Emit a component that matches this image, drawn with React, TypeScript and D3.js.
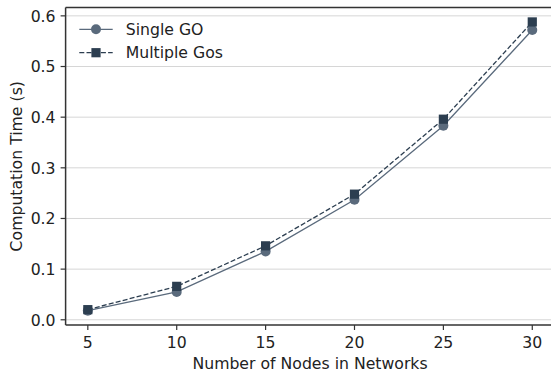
import React from "react";
import * as d3 from "d3";

const nodes = [5, 10, 15, 20, 25, 30];
const singleGO = [0.018, 0.055, 0.135, 0.237, 0.383, 0.572];
const multipleGos = [0.020, 0.066, 0.146, 0.248, 0.396, 0.588];
const xTicks = [5, 10, 15, 20, 25, 30];
const yTicks = [0.0, 0.1, 0.2, 0.3, 0.4, 0.5, 0.6];
const seriesNames = ["Single GO", "Multiple Gos"];

const W = 551;
const H = 374;
const left = 65.6;
const right = 554.5;
const top = 7.5;
const bottom = 325;

const singleColor = "#5a6a7c";
const multiColor = "#2c3e50";
const font = "DejaVu Sans, sans-serif";
const fs = 15.7;

export default function App() {
  const x = d3.scaleLinear().domain([3.75, 31.25]).range([left, right]);
  const y = d3.scaleLinear().domain([-0.0103, 0.6165]).range([bottom, top]);

  const line = d3
    .line<[number, number]>()
    .x((d) => x(d[0]))
    .y((d) => y(d[1]));

  const sData: [number, number][] = nodes.map((n, i) => [n, singleGO[i]]);
  const mData: [number, number][] = nodes.map((n, i) => [n, multipleGos[i]]);

  return (
    <svg
      width={W}
      height={H}
      style={{ position: "absolute", left: 0, top: 0 }}
      fontFamily={font}
    >
      <rect x={0} y={0} width={W} height={H} fill="#fff" />
      {/* grid */}
      {yTicks.map((t) => (
        <line
          key={"g" + t}
          x1={left}
          x2={right}
          y1={y(t)}
          y2={y(t)}
          stroke="#d6d6d6"
          strokeWidth={1}
        />
      ))}
      {/* series */}
      <path d={line(sData) || ""} fill="none" stroke={singleColor} strokeWidth={1.3} />
      <path
        d={line(mData) || ""}
        fill="none"
        stroke={multiColor}
        strokeWidth={1.3}
        strokeDasharray="5,2.2"
      />
      {sData.map((d, i) => (
        <circle key={"c" + i} cx={x(d[0])} cy={y(d[1])} r={5} fill={singleColor} />
      ))}
      {mData.map((d, i) => (
        <rect
          key={"s" + i}
          x={x(d[0]) - 4.6}
          y={y(d[1]) - 4.6}
          width={9.2}
          height={9.2}
          fill={multiColor}
        />
      ))}
      {/* spines */}
      <line x1={left} x2={left} y1={top} y2={bottom} stroke="#333" strokeWidth={1.5} />
      <line x1={left} x2={W} y1={bottom} y2={bottom} stroke="#333" strokeWidth={1.5} />
      <line x1={left} x2={W} y1={top} y2={top} stroke="#333" strokeWidth={1.5} />
      {/* y ticks */}
      {yTicks.map((t) => (
        <g key={"yt" + t}>
          <line x1={left - 5} x2={left} y1={y(t)} y2={y(t)} stroke="#333" strokeWidth={1.2} />
          <text
            x={left - 10}
            y={y(t) + 5.8}
            textAnchor="end"
            fontSize={fs}
            fill="#222"
          >
            {t.toFixed(1)}
          </text>
        </g>
      ))}
      {/* x ticks */}
      {xTicks.map((t) => (
        <g key={"xt" + t}>
          <line x1={x(t)} x2={x(t)} y1={bottom} y2={bottom + 5} stroke="#333" strokeWidth={1.2} />
          <text x={x(t)} y={347.5} textAnchor="middle" fontSize={fs} fill="#222">
            {t}
          </text>
        </g>
      ))}
      {/* axis labels */}
      <text x={(left + right) / 2} y={368.5} textAnchor="middle" fontSize={fs} fill="#222">
        Number of Nodes in Networks
      </text>
      <text
        transform={`translate(21.5,${(top + bottom) / 2}) rotate(-90)`}
        textAnchor="middle"
        fontSize={fs}
        fill="#222"
      >
        Computation Time (s)
      </text>
      {/* legend */}
      <g>
        <line x1={79.3} x2={112.7} y1={29.3} y2={29.3} stroke={singleColor} strokeWidth={1.3} />
        <circle cx={96} cy={29.3} r={5} fill={singleColor} />
        <text x={125.7} y={34.9} fontSize={fs} fill="#222">
          {seriesNames[0]}
        </text>
        <line
          x1={79.3}
          x2={112.7}
          y1={52.7}
          y2={52.7}
          stroke={multiColor}
          strokeWidth={1.3}
          strokeDasharray="5,2.2"
        />
        <rect x={96 - 4.6} y={52.7 - 4.6} width={9.2} height={9.2} fill={multiColor} />
        <text x={125.7} y={58.3} fontSize={fs} fill="#222">
          {seriesNames[1]}
        </text>
      </g>
    </svg>
  );
}
